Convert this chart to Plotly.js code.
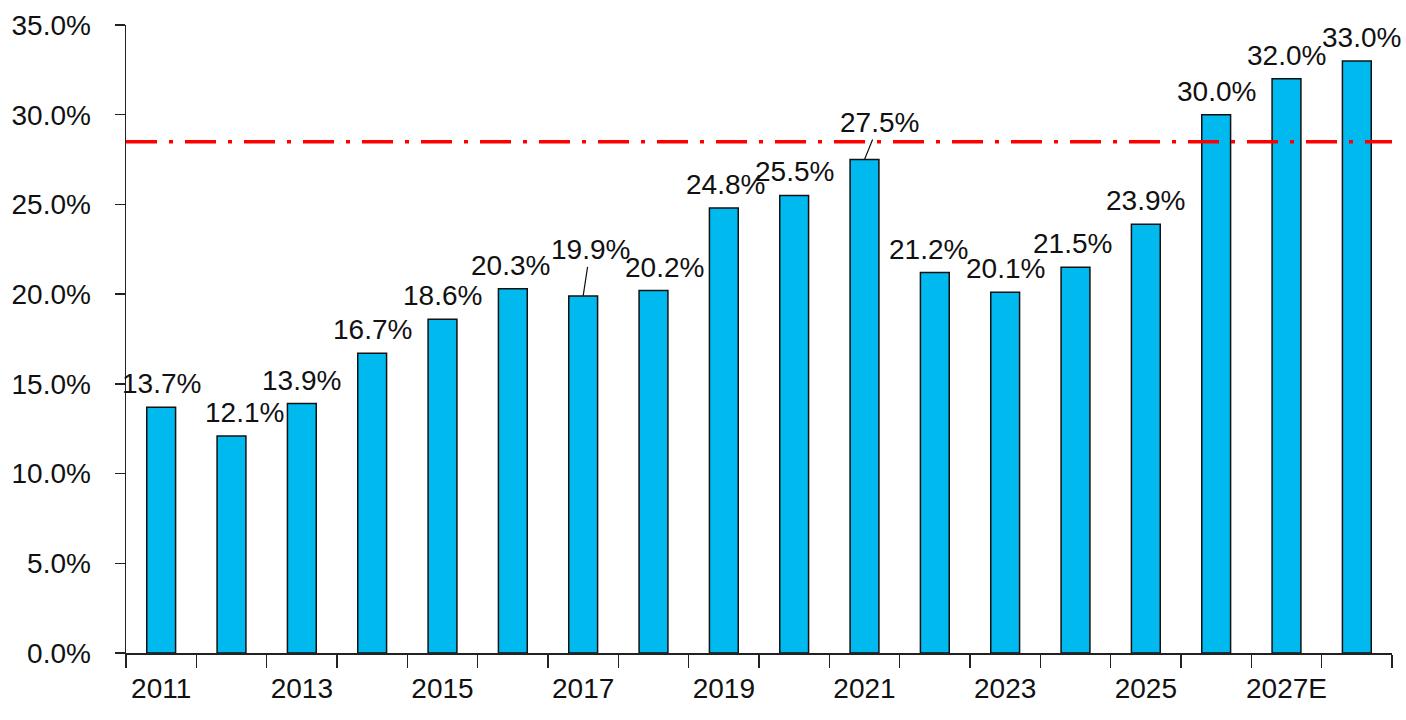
<!DOCTYPE html>
<html>
<head>
<meta charset="utf-8">
<script src="https://cdn.plot.ly/plotly-3.0.1.min.js"></script>
<style>
  html, body { margin: 0; padding: 0; background: #fff; }
  #chart { width: 1406px; height: 720px; }
</style>
</head>
<body>
<div id="chart"></div>
<script>
// data
const years = ['2011', '2012', '2013', '2014', '2015', '2016', '2017', '2018', '2019',
               '2020', '2021', '2022', '2023', '2024', '2025', '2026', '2027E', '2028E'];
const shareValues = [13.7, 12.1, 13.9, 16.7, 18.6, 20.3, 19.9, 20.2, 24.8,
                     25.5, 27.5, 21.2, 20.1, 21.5, 23.9, 30.0, 32.0, 33.0];
const tickLabels = ['2011', '', '2013', '', '2015', '', '2017', '', '2019',
                    '', '2021', '', '2023', '', '2025', '', '2027E', ''];
const referenceLevel = 28.5;

// small label nudges (px) so labels sit like the original
const labelDx = [0, 13, 0, 0, 0, -2, 0, 11, 2, 0, 0, -6, 0, -3, 0, 0, 0, 5];
// labels that hang off a leader line: [ax, ay]
const leader = { 6: [7, -46], 10: [15, -37] };

const FONT = '"Liberation Sans", Arial, sans-serif';

const node = document.getElementById('chart');

const data = [
    {
        x: years,
        y: shareValues,
        type: 'bar',
        marker: {
            color: '#00BAEF',
            line: { color: '#111', width: 1.5 }
        },
        hoverinfo: 'x+y',
        showlegend: false
    }
];

// on a category axis a numeric x is the category's index
const annotations = shareValues.map((v, i) => {
    const a = {
        x: i,
        y: v,
        xref: 'x',
        yref: 'y',
        text: v.toFixed(1) + '%',
        font: { family: FONT, size: 28, color: '#111' }
    };
    if (leader[i]) {
        a.showarrow = true;
        a.arrowhead = 0;
        a.arrowwidth = 1.2;
        a.arrowcolor = '#111';
        a.standoff = 0;
        a.ax = leader[i][0];
        a.ay = leader[i][1];
    } else {
        a.showarrow = false;
        a.yanchor = 'bottom';
        a.yshift = 6;
        a.xshift = labelDx[i];
    }
    return a;
});

const layout = {
    width: 1406,
    height: 720,
    autosize: false,
    paper_bgcolor: '#fff',
    plot_bgcolor: '#fff',
    font: { family: FONT, size: 28, color: '#111' },
    bargap: 0.59,
    margin: { l: 126, r: 14, t: 25, b: 67, pad: 0 },
    xaxis: {
        type: 'category',
        range: [-0.5, years.length - 0.5],
        tickvals: years,
        ticktext: tickLabels,
        tickangle: 0,
        tickson: 'boundaries',
        ticks: 'outside',
        ticklen: 13,
        tickwidth: 1.5,
        tickcolor: '#222',
        showline: true,
        linecolor: '#222',
        linewidth: 1.5,
        showgrid: false,
        zeroline: false,
        ticklabelstandoff: 10,
        tickfont: { family: FONT, size: 28, color: '#111' }
    },
    yaxis: {
        range: [0, 35],
        dtick: 5,
        tickformat: '.1f',
        ticksuffix: '%',
        ticks: 'outside',
        ticklen: 10,
        tickwidth: 1.5,
        tickcolor: '#222',
        showline: true,
        linecolor: '#222',
        linewidth: 1.5,
        showgrid: false,
        zeroline: false,
        ticklabelstandoff: 18,
        tickfont: { family: FONT, size: 28, color: '#111' }
    },
    shapes: [
        {
            type: 'line',
            xref: 'paper',
            yref: 'y',
            x0: 0,
            x1: 1,
            y0: referenceLevel,
            y1: referenceLevel,
            layer: 'above',
            line: { color: '#FF0000', width: 3.5, dash: '31px,12px,4px,12px' }
        }
    ],
    annotations: annotations
};

Plotly.newPlot(node, data, layout, { displayModeBar: false, staticPlot: true });
</script>
</body>
</html>
